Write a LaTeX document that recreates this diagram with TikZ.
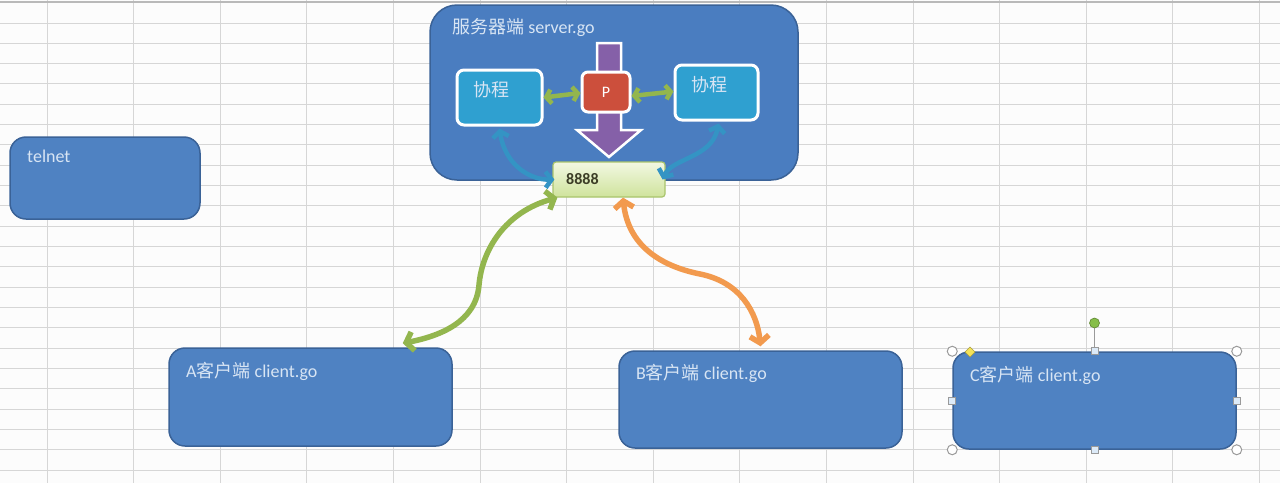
\documentclass[tikz,border=0pt]{standalone}
\usepackage{fontspec}
\setmainfont{Carlito}
\newfontfamily\cjk{Noto Sans CJK SC}
\usetikzlibrary{arrows.meta,calc}
\definecolor{bgc}{HTML}{FCFCFC}
\definecolor{gridc}{HTML}{D6D6D6}
\definecolor{boxfill}{HTML}{4F82C2}
\definecolor{boxline}{HTML}{3A6297}
\definecolor{srvfill}{HTML}{4A7DC0}
\definecolor{labc}{HTML}{D8E5F4}
\definecolor{cofill}{HTML}{2FA0D0}
\definecolor{pfill}{HTML}{CC4F3C}
\definecolor{purp}{HTML}{8560A8}
\definecolor{grn}{HTML}{93B64E}
\definecolor{org}{HTML}{F29A4E}
\definecolor{blu}{HTML}{3494C4}
\definecolor{portA}{HTML}{F2F8E2}
\definecolor{portB}{HTML}{CFE39C}
\definecolor{portl}{HTML}{A9C46C}
\definecolor{porttxt}{HTML}{3C3D26}
\definecolor{hdl}{HTML}{9A9A9A}
\definecolor{hsq}{HTML}{DCEAF8}
\definecolor{rotg}{HTML}{86BE48}
\definecolor{ydia}{HTML}{F3E25A}
\tikzset{
  gridline/.style={draw=gridc, line width=1pt},
  bluebox/.style={draw=boxline, fill=boxfill, line width=1.5pt, rounded corners=16pt, inner sep=0pt},
  srvbox/.style={draw=boxline, fill=srvfill, line width=1.5pt, rounded corners=27pt, inner sep=0pt},
  cobox/.style={draw=white, fill=cofill, line width=3pt, rounded corners=7pt, inner sep=0pt},
  pbox/.style={draw=white, fill=pfill, line width=3pt, rounded corners=6pt, inner sep=0pt, text=white, font=\fontsize{16}{18}\selectfont},
  portbox/.style={draw=portl, top color=portA, bottom color=portB, line width=1.2pt, rounded corners=3pt, inner sep=0pt},
  lbl/.style={anchor=west, inner sep=0pt, text=labc, font=\fontsize{18}{20}\selectfont},
  smallbarb/.tip={Straight Barb[length=5pt,width=14pt]},
  barb/.tip={Straight Barb[length=6pt,width=16pt]},
  bigbarb/.tip={Straight Barb[length=7pt,width=19pt]},
  gsmall/.style={draw=grn, line width=4.5pt, smallbarb-smallbarb},
  bcurve/.style={draw=blu, line width=4.5pt, barb-barb},
  gcurve/.style={draw=grn, line width=5.5pt, bigbarb-bigbarb},
  ocurve/.style={draw=org, line width=5.5pt, bigbarb-bigbarb},
  handle/.style={draw=hdl, fill=white, line width=1pt},
  sqhandle/.style={draw=hdl, fill=hsq, line width=0.8pt},
}
\begin{document}
\begin{tikzpicture}[x=1pt,y=-1pt]
\useasboundingbox (0,0) rectangle (1280,483);
\fill[bgc] (0,0) rectangle (1280,483);
% spreadsheet grid
\foreach \i in {0,...,14} \draw[gridline] ({47+86.6*\i},0) -- ({47+86.6*\i},483);
\foreach \j in {0,...,22} \draw[gridline] (0,{23+20.33*\j}) -- (1280,{23+20.33*\j});
\draw[draw=gray!55, line width=2pt] (0,1.5) -- (1280,1.5);

% server
\node[srvbox, minimum width=368pt, minimum height=175pt] (server) at (614,92.5) {};
\node[lbl] (srvlbl) at (452,27) {{\cjk 服务器端}\ server.go};

% purple block arrow
\draw[fill=purp, draw=white, line width=2.5pt, line join=miter]
  (597,43) -- (621,43) -- (621,130) -- (641,130) -- (609,157) -- (577,130) -- (597,130) -- cycle;

% goroutines and P
\node[cobox, minimum width=85pt, minimum height=55pt] (lco) at (499.5,97.5) {};
\node[cobox, minimum width=83pt, minimum height=55pt] (rco) at (716.5,92.5) {};
\node[lbl, font=\cjk\fontsize{18}{20}\selectfont] (lcolbl) at (473,90) {协程};
\node[lbl, font=\cjk\fontsize{18}{20}\selectfont] (rcolbl) at (691,85) {协程};
\node[pbox, minimum width=48pt, minimum height=40pt] (P) at (606,92) {P};

\draw[gsmall] ([yshift=-1pt]P.west) -- (lco.east);
\draw[gsmall] ([yshift=-4pt]P.east) -- ([yshift=1pt]rco.west);

% port
\node[portbox, minimum width=112pt, minimum height=35pt] (port) at (609,179.5) {};
\node[anchor=west, inner sep=0pt, text=porttxt, font=\bfseries\fontsize{16}{18}\selectfont] (portlbl) at (566,179) {8888};

% blue curved arrows
\draw[bcurve] ([yshift=-2pt]lco.south) .. controls (505,165) and (530,180) .. ([xshift=2pt]port.west);
\draw[bcurve] ([xshift=2pt,yshift=-2pt]rco.south) .. controls (712,158) and (672,158) .. ([xshift=-3pt]port.east);

% clients
\node[bluebox, minimum width=190pt, minimum height=82pt] (telnet) at (105,178) {};
\node[lbl] (telnetlbl) at (27,156) {telnet};
\node[bluebox, minimum width=283pt, minimum height=98pt] (A) at (310.5,397) {};
\node[lbl] (Albl) at (186,371) {A{\cjk 客户端} client.go};
\node[bluebox, minimum width=283pt, minimum height=97pt] (B) at (760.5,399.5) {};
\node[lbl] (Blbl) at (636,373) {B{\cjk 客户端} client.go};
\node[bluebox, minimum width=283pt, minimum height=97pt] (C) at (1094.5,400.5) {};
\node[lbl] (Clbl) at (970,375) {C{\cjk 客户端} client.go};

% big curved connectors
\draw[gcurve] ([xshift=5pt]port.south west) .. controls (505,212) and (482,250) .. (479,285)
  .. controls (476,322) and (440,336) .. ([xshift=-50pt,yshift=4pt]A.north east);
\draw[ocurve] ([xshift=14pt]port.south) .. controls (628,245) and (660,266) .. (700,274)
  .. controls (740,282) and (757,312) .. ([yshift=4pt]B.north);

% selection handles on C
\coordinate (rot) at (1094.5,323);
\draw[hdl, line width=1.2pt] (C.north) -- (rot);
\fill[rotg, draw=rotg!70!black, line width=0.6pt] (rot) circle (5pt);
\foreach \a in {north west,north east,south west,south east}
  \draw[handle] (C.\a) circle (5pt);
\foreach \a in {north,south,east,west}
  \draw[sqhandle] ($(C.\a)+(-3.5,-3.5)$) rectangle ($(C.\a)+(3.5,3.5)$);
\draw[fill=ydia, draw=ydia!70!black, line width=0.5pt]
  (970,347) -- (975,352) -- (970,357) -- (965,352) -- cycle;
\end{tikzpicture}
\end{document}
